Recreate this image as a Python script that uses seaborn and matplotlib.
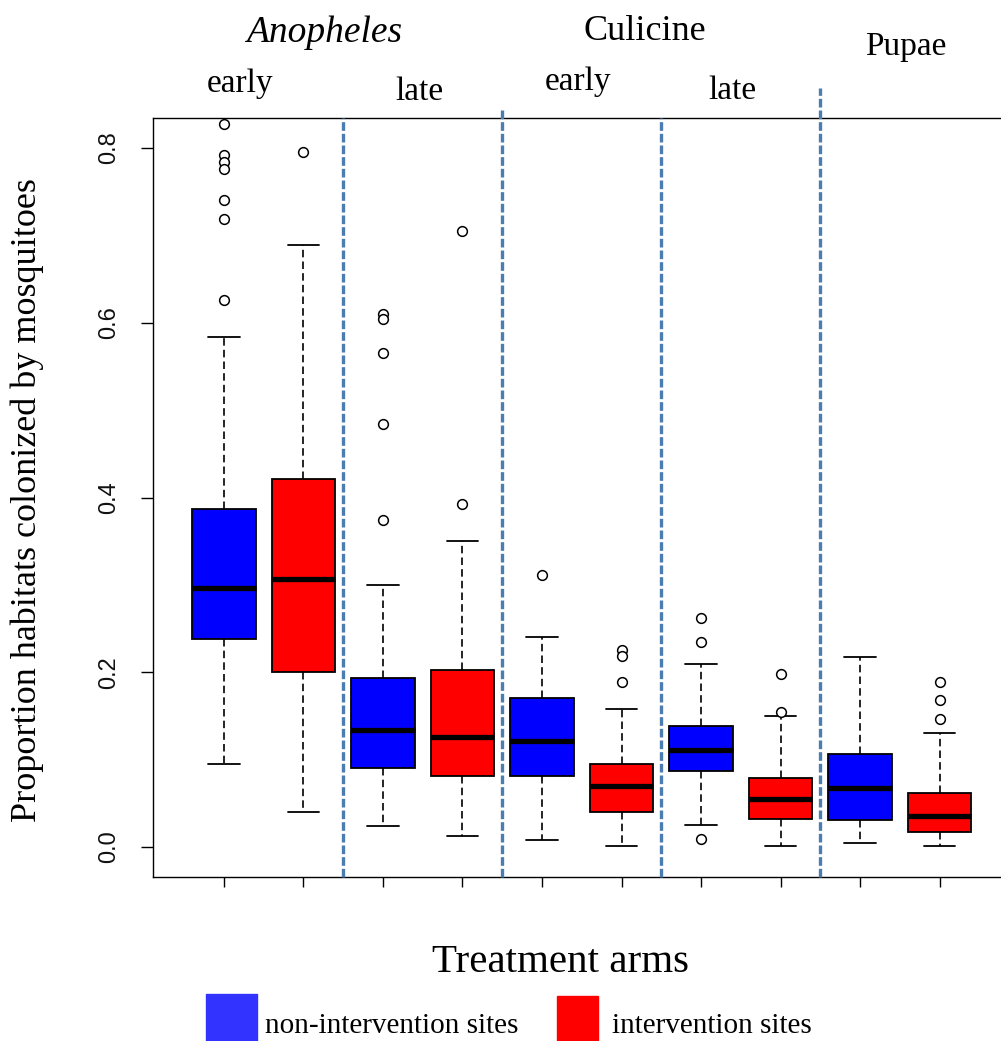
import numpy as np
import pandas as pd
import matplotlib
matplotlib.use("Agg")
import matplotlib.pyplot as plt
from matplotlib.patches import Rectangle
import seaborn as sns

sns.set_style("ticks")
plt.rcParams["font.family"] = ["Liberation Serif", "DejaVu Serif"]
plt.rcParams["text.color"] = "black"

# box summaries (5 groups x 2 arms)
groups = ["An-early-non", "An-early-int", "An-late-non", "An-late-int",
          "Cu-early-non", "Cu-early-int", "Cu-late-non", "Cu-late-int",
          "Pu-non", "Pu-int"]
arms = ["non-intervention sites", "intervention sites"] * 5
whisker_low = [0.095, 0.040, 0.024, 0.013, 0.008, 0.001, 0.025, 0.001, 0.005, 0.001]
quart_1 = [0.238, 0.200, 0.090, 0.081, 0.081, 0.040, 0.087, 0.032, 0.031, 0.017]
medians = [0.297, 0.307, 0.134, 0.126, 0.121, 0.070, 0.111, 0.055, 0.068, 0.036]
quart_3 = [0.387, 0.421, 0.193, 0.203, 0.171, 0.095, 0.138, 0.079, 0.106, 0.062]
whisker_high = [0.584, 0.689, 0.300, 0.350, 0.240, 0.158, 0.210, 0.150, 0.217, 0.130]
outliers = [
    [0.828, 0.792, 0.784, 0.776, 0.740, 0.719, 0.626],
    [0.795],
    [0.610, 0.604, 0.565, 0.484, 0.374],
    [0.705, 0.392],
    [0.311],
    [0.226, 0.219, 0.189],
    [0.262, 0.235, 0.009],
    [0.198, 0.154],
    [],
    [0.189, 0.168, 0.146],
]
separator_tops = [0.834, 0.847, 0.834, 0.869]

palette = {"non-intervention sites": "#0000FF", "intervention sites": "#FF0000"}
legend_colors = {"non-intervention sites": "#3333FF", "intervention sites": "#FF0000"}

rows = []
for g, a, lo, q1, m, q3, hi in zip(groups, arms, whisker_low, quart_1, medians, quart_3, whisker_high):
    for v in (lo, q1, m, q3, hi):
        rows.append({"group": g, "arm": a, "value": v})
box_df = pd.DataFrame(rows)

out_rows = []
for g, vals in zip(groups, outliers):
    for v in vals:
        out_rows.append({"group": g, "value": v})
out_df = pd.DataFrame(out_rows)

W, H = 1001, 1041
fig = plt.figure(figsize=(W / 100, H / 100), dpi=100)


def fx(px):
    return px / W


def fy(py):
    return 1 - py / H


ax = fig.add_axes([fx(153), fy(877), fx(1040) - fx(153), fy(118) - fy(877)])

sns.boxplot(data=box_df, x="group", y="value", hue="arm", order=groups,
            palette=palette, dodge=False, whis=(0, 100), width=0.8,
            saturation=1, linewidth=1.3, linecolor="black", showfliers=False,
            legend=False, ax=ax,
            medianprops={"color": "black", "linewidth": 3.8},
            whiskerprops={"color": "black", "linewidth": 1.2, "linestyle": (0, (4.5, 2.5))},
            capprops={"color": "black", "linewidth": 1.3},
            boxprops={"edgecolor": "black", "linewidth": 1.3})

sns.stripplot(data=out_df, x="group", y="value", order=groups, jitter=False,
              marker="o", color="white", edgecolor="black", linewidth=1.1,
              size=7, ax=ax, zorder=5)

seps = np.arange(1.5, len(groups) - 1, 2)
ax.vlines(seps, -0.0343, separator_tops, colors="#4C7DB0", linewidth=2.4,
          linestyles=(0, (2.6, 0.9)), clip_on=False, zorder=6)

ax.set_xlim(-0.893, 10.264)
ax.set_ylim(-0.0343, 0.8343)
ax.set_yticks([0.0, 0.2, 0.4, 0.6, 0.8])
ax.set_yticklabels(["0.0", "0.2", "0.4", "0.6", "0.8"], rotation=90, va="center",
                   family=["Liberation Sans", "DejaVu Sans"], fontsize=17,
                   color="#111111")
ax.set_xticks(range(len(groups)))
ax.set_xticklabels([])
ax.tick_params(axis="x", direction="out", length=7.5, width=1, color="black")
ax.tick_params(axis="y", direction="out", length=9, width=1, color="black", pad=15)
ax.set_xlabel("")
ax.set_ylabel("")
for side in ["left", "bottom", "top"]:
    ax.spines[side].set_color("black")
    ax.spines[side].set_linewidth(1.0)
ax.spines["right"].set_visible(False)

# header texts
fig.text(fx(324), fy(42), "Anopheles", style="italic", fontsize=27, ha="center", va="baseline")
fig.text(fx(645), fy(40), "Culicine", fontsize=26, ha="center", va="baseline")
fig.text(fx(906), fy(55), "Pupae", fontsize=24, ha="center", va="baseline")
fig.text(fx(240), fy(92), "early", fontsize=24, ha="center", va="baseline")
fig.text(fx(419), fy(100), "late", fontsize=24, ha="center", va="baseline")
fig.text(fx(578), fy(90), "early", fontsize=24, ha="center", va="baseline")
fig.text(fx(732), fy(99), "late", fontsize=24, ha="center", va="baseline")

fig.text(fx(27), fy(500), "Proportion habitats colonized by mosquitoes", rotation=90,
         fontsize=26, ha="center", va="center")
fig.text(fx(560), fy(972), "Treatment arms", fontsize=29.5, ha="center", va="baseline")

# legend
fig.add_artist(Rectangle((fx(206), fy(1041)), fx(257) - fx(206), fy(994) - fy(1041),
                         transform=fig.transFigure, color=legend_colors["non-intervention sites"]))
fig.text(fx(265), fy(1033), "non-intervention sites", fontsize=21, ha="left", va="baseline")
fig.add_artist(Rectangle((fx(557), fy(1041)), fx(598) - fx(557), fy(996) - fy(1041),
                         transform=fig.transFigure, color=legend_colors["intervention sites"]))
fig.text(fx(612), fy(1033), "intervention sites", fontsize=21, ha="left", va="baseline")

fig.savefig("out.png", dpi=100, facecolor="white")
